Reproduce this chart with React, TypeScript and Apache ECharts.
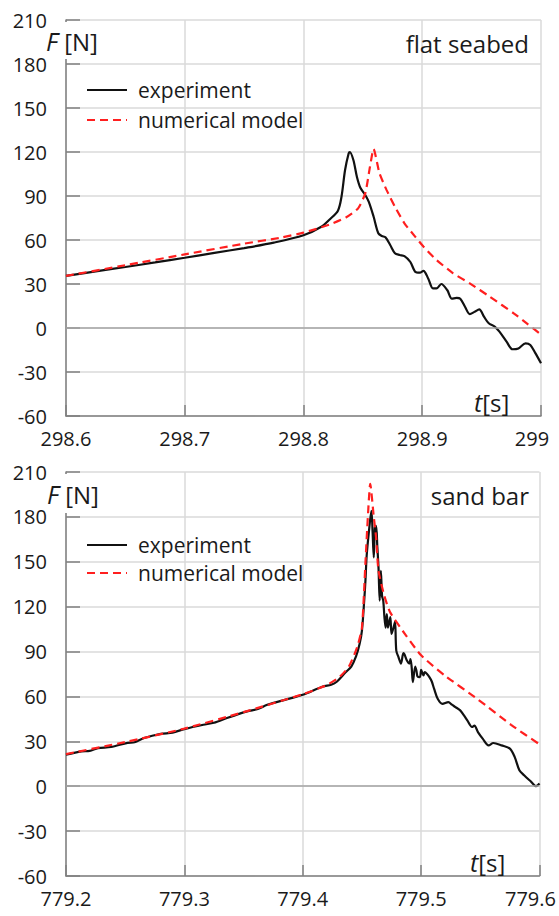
import React, { useEffect, useRef } from "react";
import * as echarts from "echarts";

// ---- data (t [s], F [N]) ----
const topExperiment: [number, number][] = [
  [298.6, 35.5], [298.625, 38.6], [298.65, 41.6], [298.675, 44.7], [298.7, 47.9],
  [298.725, 51.2], [298.75, 54.5], [298.775, 58.2], [298.8, 63.2], [298.815, 69],
  [298.822, 74], [298.829, 80], [298.832, 89.5], [298.835, 107.7], [298.838, 119],
  [298.839, 120], [298.842, 114.5], [298.845, 103], [298.848, 95.4], [298.852, 90.7],
  [298.855, 86], [298.859, 76], [298.863, 64.6], [298.866, 62.7], [298.869, 61.8],
  [298.873, 56.6], [298.877, 51], [298.881, 49.8], [298.885, 49], [298.89, 45],
  [298.894, 38.4], [298.898, 37.7], [298.901, 39], [298.905, 33.8], [298.909, 27],
  [298.912, 27], [298.916, 30], [298.921, 25.9], [298.925, 20], [298.929, 20.5],
  [298.932, 20], [298.936, 14.5], [298.94, 9.5], [298.944, 11], [298.948, 12.7],
  [298.952, 7.7], [298.956, 3.2], [298.961, 1], [298.965, -2.5], [298.971, -9.3],
  [298.976, -14.5], [298.981, -13.9], [298.987, -10.5], [298.991, -11.6], [298.995, -16.8],
  [299.0, -24],
];
const topModel: [number, number][] = [
  [298.6, 35.5], [298.65, 42.8], [298.7, 50.2], [298.75, 57.5], [298.78, 61.5],
  [298.8, 65], [298.822, 70.5], [298.836, 75.5], [298.846, 81.6], [298.852, 91.8],
  [298.856, 110], [298.859, 122], [298.864, 105.5], [298.87, 94], [298.877, 82.7],
  [298.885, 71.4], [298.894, 62.3], [298.901, 55.5], [298.912, 46.4], [298.926, 37.3],
  [298.94, 30.4], [298.957, 21.3], [298.977, 10], [298.988, 3.2], [299.0, -4.5],
];
const bottomExperiment: [number, number][] = [
  [779.2, 21], [779.213, 23.3], [779.22, 23.6], [779.227, 25.5], [779.238, 26.2],
  [779.252, 29], [779.258, 29.4], [779.266, 32.2], [779.28, 35], [779.29, 35.8],
  [779.3, 38.2], [779.316, 41.1], [779.325, 42.4], [779.336, 45.6], [779.353, 50],
  [779.362, 51.6], [779.37, 54.4], [779.387, 58.2], [779.4, 61.1], [779.417, 66.7],
  [779.424, 67.8], [779.429, 70], [779.436, 76], [779.441, 80], [779.445, 86.7],
  [779.448, 95], [779.45, 104], [779.452, 125], [779.453, 138], [779.454, 154],
  [779.456, 171], [779.458, 184], [779.459, 170], [779.46, 153], [779.461, 173],
  [779.462, 174], [779.463, 160], [779.464, 146], [779.465, 124], [779.466, 144],
  [779.467, 127], [779.468, 124], [779.469, 113], [779.47, 106], [779.471, 115],
  [779.472, 106], [779.474, 113], [779.475, 101.8], [779.477, 107], [779.478, 110],
  [779.479, 90.7], [779.481, 86], [779.483, 82], [779.485, 89], [779.486, 88],
  [779.488, 84], [779.49, 82], [779.491, 85], [779.492, 79.6], [779.493, 69.6],
  [779.495, 80], [779.496, 77.3], [779.497, 73.3], [779.499, 72.9], [779.5, 77.8],
  [779.502, 74], [779.503, 76.2], [779.505, 75], [779.507, 72.9], [779.509, 70],
  [779.511, 65], [779.514, 58.4], [779.518, 55], [779.523, 56.2], [779.526, 54.5],
  [779.529, 52.9], [779.533, 50.7], [779.536, 47.5], [779.539, 44], [779.543, 39.6],
  [779.545, 40.5], [779.548, 36.2], [779.552, 31.8], [779.557, 27.3], [779.561, 28.9],
  [779.568, 27.3], [779.575, 25.1], [779.579, 19.6], [779.583, 10.7], [779.587, 7.3],
  [779.593, 2.9], [779.597, 0], [779.6, 1.8],
];
const bottomModel: [number, number][] = [
  [779.2, 21.5], [779.25, 29.5], [779.3, 38.5], [779.35, 49.5], [779.4, 61.5],
  [779.42, 67.5], [779.431, 73], [779.439, 80], [779.446, 93], [779.45, 106],
  [779.453, 150], [779.455, 180], [779.457, 202], [779.46, 180], [779.462, 166],
  [779.464, 144], [779.469, 127], [779.474, 116], [779.487, 101], [779.5, 87.5],
  [779.52, 74], [779.548, 58], [779.576, 41], [779.6, 28],
];

const seriesNames = ["experiment", "numerical model"];
const panelTitles = ["flat seabed", "sand bar"];
const topRange = [298.6, 299.0];
const bottomRange = [779.2, 779.6];
const yRange = [-60, 210];

const FONT = "'Open Sans', 'Noto Sans', sans-serif";
const TXT = "#1a1a1a";

function xAxisFor(gridIndex: number, range: number[]) {
  return {
    type: "value",
    gridIndex,
    min: range[0],
    max: range[1],
    interval: 0.1,
    axisLine: { show: true, onZero: false, lineStyle: { color: "#808080", width: 1.5 } },
    axisTick: { show: true, inside: true, length: 11, lineStyle: { color: "#808080", width: 1.5 } },
    splitLine: { show: true, lineStyle: { color: "#dadada", width: 1.5 } },
    axisLabel: {
      margin: 12,
      fontSize: 20,
      fontFamily: FONT,
      color: TXT,
      formatter: (v: number) => {
        const s = String(Number(v.toFixed(1)));
        if (Math.abs(v - range[1]) < 1e-6) return "{r|" + s + "}";
        return s;
      },
      rich: {
        r: { fontSize: 20, fontFamily: FONT, color: TXT, padding: [0, 18, 0, 0] },
      },
    },
  };
}

function yAxisFor(gridIndex: number) {
  return {
    type: "value",
    gridIndex,
    min: yRange[0],
    max: yRange[1],
    interval: 30,
    axisLine: { show: true, lineStyle: { color: "#808080", width: 1.5 } },
    axisTick: { show: true, inside: true, length: 14, lineStyle: { color: "#808080", width: 1.5 } },
    splitLine: { show: true, lineStyle: { color: "#dadada", width: 1.5 } },
    axisLabel: { margin: 19, fontSize: 20, fontFamily: FONT, color: TXT },
  };
}

function expSeries(idx: number, data: [number, number][]) {
  return {
    name: seriesNames[0],
    type: "line",
    xAxisIndex: idx,
    yAxisIndex: idx,
    data,
    symbol: "none",
    smooth: 0.3,
    lineStyle: { color: "#111111", width: 2.2 },
    itemStyle: { color: "#111111" },
    markLine: {
      silent: true,
      symbol: "none",
      label: { show: false },
      lineStyle: { color: "#a6a6a6", type: "solid", width: 1.5 },
      data: [{ yAxis: 0 }],
    },
  };
}

function modelSeries(idx: number, data: [number, number][]) {
  return {
    name: seriesNames[1],
    type: "line",
    xAxisIndex: idx,
    yAxisIndex: idx,
    data,
    symbol: "none",
    smooth: 0.2,
    lineStyle: { color: "#ff1f1f", width: 2.2, type: [8, 5] },
    itemStyle: { color: "#ff1f1f" },
  };
}

function legendFor(top: number, gap: number) {
  return {
    orient: "vertical",
    left: 86,
    top,
    padding: 0,
    itemWidth: 40,
    itemHeight: 14,
    itemGap: gap,
    itemStyle: { opacity: 0 },
    data: seriesNames,
    textStyle: { fontSize: 21, fontFamily: FONT, color: TXT, padding: [0, 0, 0, 6], lineHeight: 24 },
  };
}

function labelF(x: number, y: number) {
  return {
    type: "text",
    x,
    y,
    z: 110,
    style: {
      text: "{i|F}{n| [N]}",
      verticalAlign: "middle",
      rich: {
        i: { fontSize: 25, fontFamily: FONT, fontStyle: "italic", fill: TXT },
        n: { fontSize: 24, fontFamily: FONT, fill: TXT },
      },
    },
  };
}

function labelT(x: number, y: number) {
  return {
    type: "text",
    x,
    y,
    z: 110,
    style: {
      text: "{i|t}{n|[s]}",
      verticalAlign: "middle",
      rich: {
        i: { fontSize: 25, fontFamily: FONT, fontStyle: "italic", fill: TXT },
        n: { fontSize: 24, fontFamily: FONT, fill: TXT },
      },
    },
  };
}

function titleText(text: string, y: number) {
  return {
    type: "text",
    x: 529,
    y,
    z: 110,
    style: { text, fontSize: 24, fontFamily: FONT, fill: TXT, align: "right", verticalAlign: "middle" },
  };
}

export default function App() {
  const ref = useRef<HTMLDivElement>(null);
  useEffect(() => {
    if (!ref.current) return;
    const chart = echarts.init(ref.current, null, { renderer: "svg" });
    chart.setOption({
      animation: false,
      backgroundColor: "#ffffff",
      grid: [
        { left: 66, right: 18, top: 20, height: 396 },
        { left: 66, right: 18, top: 472, height: 404 },
      ],
      xAxis: [xAxisFor(0, topRange), xAxisFor(1, bottomRange)],
      yAxis: [yAxisFor(0), yAxisFor(1)],
      legend: [legendFor(78, 6), legendFor(533, 4)],
      series: [
        expSeries(0, topExperiment),
        modelSeries(0, topModel),
        expSeries(1, bottomExperiment),
        modelSeries(1, bottomModel),
      ],
      graphic: [
        { type: "rect", z: 100, shape: { x: 63, y: 22, width: 6, height: 37 }, style: { fill: "#ffffff" } },
        { type: "rect", z: 100, shape: { x: 63, y: 474, width: 6, height: 39 }, style: { fill: "#ffffff" } },
        labelF(46, 41),
        labelF(47, 494),
        labelT(474, 402),
        labelT(470, 862),
        titleText(panelTitles[0], 43),
        titleText(panelTitles[1], 495),
      ],
    });
    return () => chart.dispose();
  }, []);
  return (
    <div
      ref={ref}
      style={{ position: "fixed", left: 0, top: 0, width: 559, height: 916, background: "#fff" }}
    />
  );
}
